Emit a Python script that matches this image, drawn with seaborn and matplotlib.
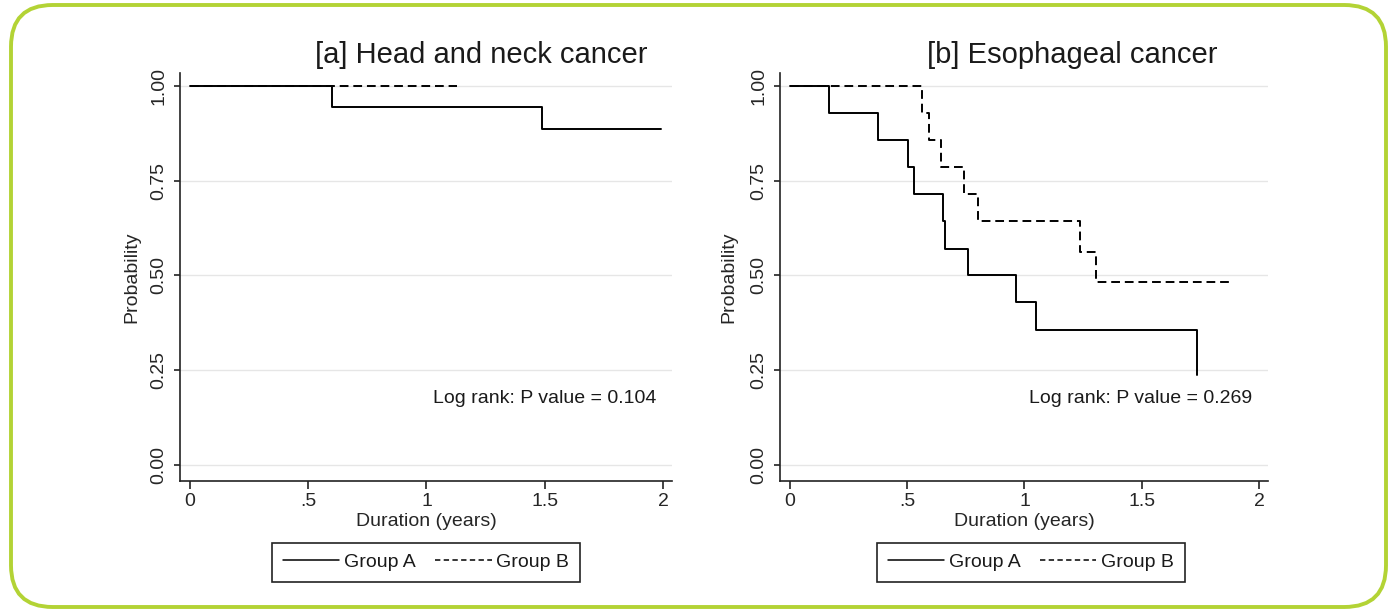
import numpy as np
import pandas as pd
import seaborn as sns
import matplotlib.pyplot as plt
from matplotlib.lines import Line2D
from matplotlib.patches import FancyBboxPatch

# Kaplan-Meier steps
a_time_A = [0, 0.60, 1.49, 1.99]
a_surv_A = [1.0, 0.944, 0.885, 0.885]
a_time_B = [0, 1.13]
a_surv_B = [1.0, 1.0]

b_time_A = [0, 0.165, 0.374, 0.505, 0.530, 0.652, 0.661, 0.758, 0.966, 1.051, 1.737]
b_surv_A = [1.0, 0.929, 0.857, 0.786, 0.714, 0.643, 0.571, 0.500, 0.429, 0.357, 0.238]
b_time_B = [0, 0.565, 0.593, 0.643, 0.741, 0.801, 1.236, 1.305, 1.89]
b_surv_B = [1.0, 0.929, 0.857, 0.786, 0.714, 0.643, 0.5625, 0.482, 0.482]

titles = ["[a] Head and neck cancer", "[b] Esophageal cancer"]
pvalues = ["0.104", "0.269"]
groups = ["Group A", "Group B"]
xticks = [0, 0.5, 1, 1.5, 2]
xticklabels = ["0", ".5", "1", "1.5", "2"]
yticks = [0, 0.25, 0.5, 0.75, 1.0]
yticklabels = ["0.00", "0.25", "0.50", "0.75", "1.00"]

sns.set_style("white")
plt.rcParams['font.family'] = ['Liberation Sans', 'DejaVu Sans']
plt.rcParams['text.color'] = '#1a1a1a'

def make_df(tA, sA, tB, sB):
    d1 = pd.DataFrame({"time": tA, "surv": sA, "group": groups[0]})
    d2 = pd.DataFrame({"time": tB, "surv": sB, "group": groups[1]})
    return pd.concat([d1, d2], ignore_index=True)

data = [make_df(a_time_A, a_surv_A, a_time_B, a_surv_B),
        make_df(b_time_A, b_surv_A, b_time_B, b_surv_B)]

fig = plt.figure(figsize=(13.89, 6.13), dpi=100)
ax_a = fig.add_axes([180/1389, 1-481/613, 492/1389, 408/613])
ax_b = fig.add_axes([780/1389, 1-481/613, 488/1389, 408/613])

dash_map = {groups[0]: "", groups[1]: (4.5, 2.5)}
title_x = [0.3466, 0.772]
leg_x = [0.5, 0.514]
ylab_x = [-0.08, -0.088]

for i, ax in enumerate([ax_a, ax_b]):
    sns.lineplot(data=data[i], x="time", y="surv", style="group", dashes=dash_map,
                 color="black", linewidth=1.4, drawstyle="steps-post",
                 estimator=None, legend=False, ax=ax)
    ax.set_xlim(-0.042, 2.038)
    ax.set_ylim(-0.042, 1.034)
    ax.set_yticks(yticks)
    ax.set_yticklabels(yticklabels, rotation=90, va="center")
    ax.set_xticks(xticks)
    ax.set_xticklabels(xticklabels)
    ax.grid(axis="y", color="#e6e6e6", linewidth=1.0)
    ax.grid(axis="x", visible=False)
    sns.despine(ax=ax)
    for s in ["left", "bottom"]:
        ax.spines[s].set_color("#222222")
        ax.spines[s].set_linewidth(1.2)
    ax.tick_params(axis="x", length=6, width=1.2, color="#222222", labelsize=14, pad=3, bottom=True)
    ax.tick_params(axis="y", length=4, width=1.2, color="#222222", labelsize=14, pad=5, left=True)
    ax.set_xlabel("Duration (years)", fontsize=14, labelpad=2)
    ax.set_ylabel("Probability", fontsize=14)
    ax.yaxis.set_label_coords(ylab_x[i], 0.5)
    ax.text(1.97, 0.176, "Log rank: P value = " + pvalues[i], fontsize=14,
            ha="right", va="center")
    fig.text(title_x[i], 1-55/613, titles[i], fontsize=21, ha="center", va="center")

    handles = [Line2D([], [], color="black", linewidth=1.1),
               Line2D([], [], color="black", linewidth=1.1, dashes=(3.5, 2.2))]
    leg = ax.legend(handles, groups, loc="upper center", bbox_to_anchor=(leg_x[i], -0.127),
                    ncol=2, fontsize=14, frameon=True, fancybox=False, framealpha=1,
                    edgecolor="#222222", handlelength=2.9, handletextpad=0.25,
                    columnspacing=1.0, borderpad=0.55)
    leg.get_frame().set_linewidth(1.2)

# green rounded frame around the whole figure
frame = FancyBboxPatch((11/1389, 6/613), 1375/1389, 602/613,
                       boxstyle="round,pad=0,rounding_size=0.03",
                       transform=fig.transFigure, fill=False,
                       edgecolor="#b3d335", linewidth=2.8, mutation_aspect=1389/613)
fig.patches.append(frame)

fig.savefig("out.png", dpi=100)
